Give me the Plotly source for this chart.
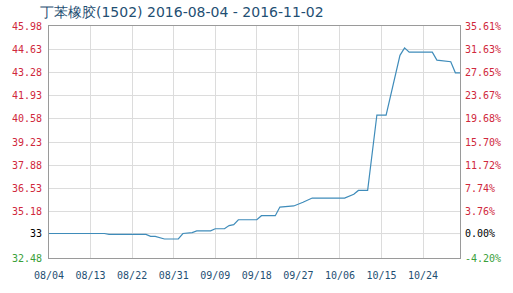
import plotly.graph_objects as go

# ---- data ----
dates = ["2016-08-04", "2016-08-16", "2016-08-17", "2016-08-25", "2016-08-26", "2016-08-27",
         "2016-08-29", "2016-09-01", "2016-09-02", "2016-09-04", "2016-09-05", "2016-09-08",
         "2016-09-09", "2016-09-11", "2016-09-12", "2016-09-13", "2016-09-14", "2016-09-18",
         "2016-09-19", "2016-09-22", "2016-09-23", "2016-09-26", "2016-09-28", "2016-09-30",
         "2016-10-07", "2016-10-09", "2016-10-10", "2016-10-12", "2016-10-14", "2016-10-16",
         "2016-10-19", "2016-10-20", "2016-10-21", "2016-10-26", "2016-10-27", "2016-10-30",
         "2016-10-31", "2016-11-01"]
prices = [33.00, 33.00, 32.95, 32.95, 32.84, 32.84,
          32.69, 32.69, 33.00, 33.05, 33.15, 33.15,
          33.27, 33.27, 33.45, 33.50, 33.78, 33.78,
          34.01, 34.01, 34.50, 34.56, 34.77, 35.01,
          35.01, 35.22, 35.44, 35.44, 39.71, 39.71,
          43.09, 43.51, 43.27, 43.27, 42.82, 42.73,
          42.10, 42.10]
BASE = 33
left_labels = ["32.48", "33", "35.18", "36.53", "37.88", "39.23", "40.58", "41.93", "43.28", "44.63", "45.98"]
right_pcts = [-4.20, 0.00, 3.76, 7.74, 11.72, 15.70, 19.68, 23.67, 27.65, 31.63, 35.61]
x_ticks = ["2016-08-04", "2016-08-13", "2016-08-22", "2016-08-31", "2016-09-09", "2016-09-18",
           "2016-09-27", "2016-10-06", "2016-10-15", "2016-10-24"]
x_labels = ["08/04", "08/13", "08/22", "08/31", "09/09", "09/18", "09/27", "10/06", "10/15", "10/24"]
title = "丁苯橡胶(1502) 2016-08-04 - 2016-11-02"

RED = "#d0283c"
GREEN = "#3aa03a"
BLACK = "#000000"

def colorize(txt, p):
    c = RED if p > 0 else (GREEN if p < 0 else BLACK)
    return f'<span style="color:{c}">{txt}</span>'

tickvals = [BASE * (1 + p / 100) for p in right_pcts]
lt = [colorize(t, p) for t, p in zip(left_labels, right_pcts)]
rt = [colorize(f"{p:.2f}%", p) for p in right_pcts]
yr = [tickvals[0], tickvals[-1]]

fig = go.Figure()
fig.add_trace(go.Scatter(x=dates, y=prices, mode="lines",
                         line=dict(color="#3f8cba", width=1.2), showlegend=False))
fig.add_trace(go.Scatter(x=dates, y=prices, mode="lines", yaxis="y2",
                         line=dict(color="rgba(0,0,0,0)", width=0), showlegend=False,
                         hoverinfo="skip"))

fig.add_shape(type="line", xref="paper", x0=0, x1=1, yref="y", y0=BASE, y1=BASE,
              line=dict(color="#7a7a7a", width=1), layer="between")

tickfont = dict(family="DejaVu Sans Mono", size=10)
fig.update_layout(
    width=513, height=293,
    margin=dict(l=40, r=44, t=26, b=27),
    paper_bgcolor="white", plot_bgcolor="white",
    title=dict(text=title, x=40/513, xanchor="left", y=1 - 12/293, yanchor="middle",
               font=dict(family="DejaVu Sans", size=14, color="#1f4f73")),
    xaxis=dict(type="date", range=["2016-08-04", "2016-11-01"],
               tickvals=x_ticks, ticktext=x_labels,
               showgrid=True, gridcolor="#dcdcdc", gridwidth=1,
               showline=True, linecolor="#9a9a9a", mirror=True,
               ticks="", ticklabelstandoff=8,
               tickfont=dict(family="DejaVu Sans Mono", size=10, color="#1f4f73"),
               zeroline=False),
    yaxis=dict(range=yr, tickvals=tickvals, ticktext=lt,
               showgrid=True, gridcolor="#dcdcdc", gridwidth=1,
               showline=True, linecolor="#9a9a9a", mirror=True,
               ticks="", ticklabelstandoff=4, tickfont=tickfont, zeroline=False),
    yaxis2=dict(range=yr, tickvals=tickvals, ticktext=rt, overlaying="y", side="right",
                showgrid=False, showline=False, ticks="", ticklabelstandoff=4,
                tickfont=tickfont, zeroline=False),
)

fig.write_html("out.html")
